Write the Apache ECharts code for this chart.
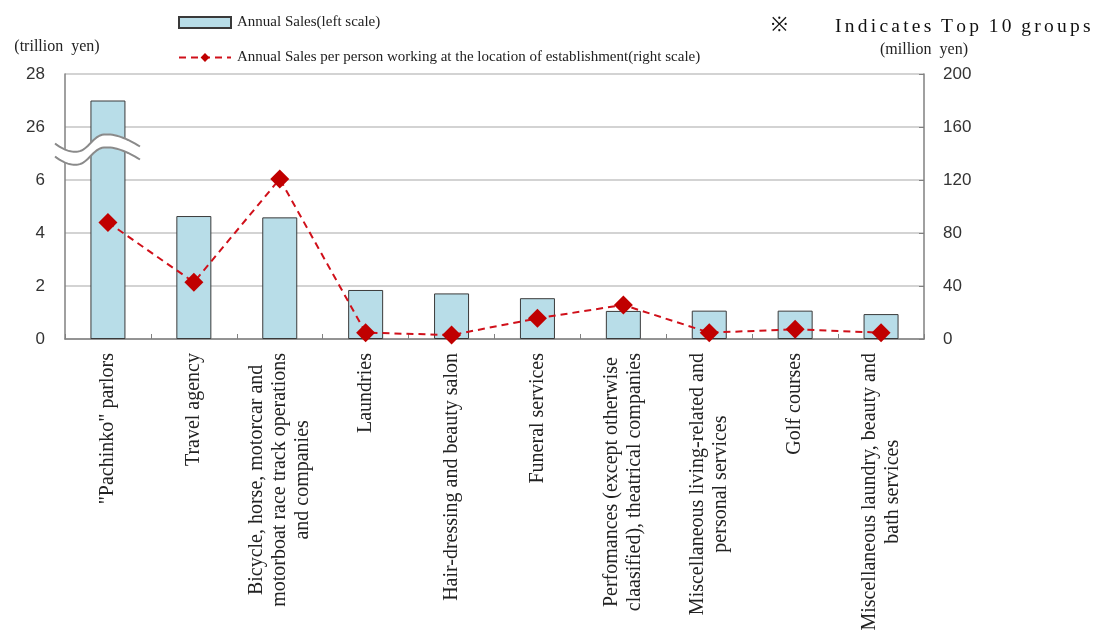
<!DOCTYPE html>
<html>
<head>
<meta charset="utf-8">
<script src="https://cdn.jsdelivr.net/npm/echarts@6/dist/echarts.min.js"></script>
<style>html,body{margin:0;padding:0;background:#fff;}#c{width:1098px;height:636px;}</style>
</head>
<body>
<div id="c"></div>
<script>
// ---- data ----
const categories = [
  '"Pachinko" parlors',
  'Travel agency',
  'Bicycle, horse, motorcar and\nmotorboat race track operations\nand companies',
  'Laundries',
  'Hair-dressing and beauty salon',
  'Funeral services',
  'Perfomances (except otherwise\nclaasified), theatrical companies',
  'Miscellaneous living-related and\npersonal services',
  'Golf courses',
  'Miscellaneous laundry, beauty and\nbath services'
];
// Annual sales, trillion yen (left scale)
const annualSales = [27.0, 4.64, 4.59, 1.85, 1.72, 1.54, 1.06, 1.07, 1.07, 0.94];
// Annual sales per person, million yen (right scale)
const salesPerPerson = [88, 42.8, 120.8, 4.8, 3, 15.6, 25.7, 4.8, 7.3, 4.8];
// left axis tick labels (broken axis: 0,2,4,6 then 26,28)
const leftTickLabels = ['0', '2', '4', '6', '26', '28'];
const breakLow = 6;      // last value shown below the break
const breakOffset = 18;  // values above the break are shifted down by this amount

function toDisplay(v) { return v > breakLow + 1 ? v - breakOffset : v; }

const serif = "'Liberation Serif', 'Times New Roman', serif";
const sans = "'Liberation Sans', Arial, sans-serif";
const catFontSize = 20;

// rich styles that centre the lines of each multi-line category label
const measureCtx = document.createElement('canvas').getContext('2d');
measureCtx.font = catFontSize + "px 'Liberation Serif'";
const richStyles = {};
categories.forEach(function (c, i) {
  const lines = c.split('\n');
  const widths = lines.map(function (l) { return measureCtx.measureText(l).width; });
  const maxW = Math.max.apply(null, widths);
  lines.forEach(function (l, j) {
    richStyles['r' + i + '_' + j] = {
      fontFamily: serif, fontSize: catFontSize, color: '#222', lineHeight: 23,
      padding: [0, (maxW - widths[j]) / 2, 0, 0]
    };
  });
});

const chart = echarts.init(document.getElementById('c'));
chart.setOption({
  animation: false,
  backgroundColor: '#fff',
  title: [{
    text: '\u203B',
    left: 766, top: 11,
    textStyle: { fontFamily: serif, fontSize: 20, fontWeight: 'normal', color: '#111' }
  }, {
    text: 'I\u2006n\u2006d\u2006i\u2006c\u2006a\u2006t\u2006e\u2006s\u2005 T\u2006o\u2006p\u2005 1\u20060\u2005 g\u2006r\u2006o\u2006u\u2006p\u2006s',
    left: 830, top: 12,
    textStyle: { fontFamily: serif, fontSize: 19.5, fontWeight: 'normal', color: '#111' }
  }],
  legend: {
    orient: 'vertical',
    left: 173, top: 10,
    itemWidth: 52, itemHeight: 11, itemGap: 20,
    textStyle: { fontFamily: serif, fontSize: 15, color: '#222', padding: [0, 0, 0, 1] },
    data: [
      { name: 'Annual Sales(left scale)', icon: 'rect' },
      { name: 'Annual Sales per person working at the location of establishment(right scale)' }
    ]
  },
  grid: { left: 65, right: 174, top: 74, bottom: 297 },
  xAxis: {
    type: 'category',
    data: categories,
    boundaryGap: true,
    axisLine: { lineStyle: { color: '#808080', width: 1.5 } },
    axisTick: { show: true, inside: true, length: 5, lineStyle: { color: '#808080' } },
    axisLabel: {
      interval: 0,
      rotate: 90,
      margin: 14,
      fontFamily: serif,
      fontSize: catFontSize,
      color: '#222',
      lineHeight: 23,
      formatter: function (v, i) {
        return v.split('\n').map(function (l, j) { return '{r' + i + '_' + j + '|' + l + '}'; }).join('\n');
      },
      rich: richStyles
    }
  },
  yAxis: [{
    type: 'value',
    min: 0, max: 10, interval: 2,
    name: '(trillion  yen)',
    nameLocation: 'end',
    nameGap: 19,
    nameTextStyle: { fontFamily: serif, fontSize: 16, color: '#222', align: 'center', padding: [0, 16, 0, 0] },
    axisLine: { show: true, lineStyle: { color: '#808080', width: 1.5 } },
    axisTick: { show: false },
    splitLine: { lineStyle: { color: '#c4c4c4', width: 1.5 } },
    axisLabel: {
      margin: 20, fontFamily: sans, fontSize: 17, color: '#333',
      formatter: function (v) { return leftTickLabels[Math.round(v / 2)]; }
    }
  }, {
    type: 'value',
    min: 0, max: 200, interval: 40,
    name: '(million  yen)',
    nameLocation: 'end',
    nameGap: 16,
    nameTextStyle: { fontFamily: serif, fontSize: 16, color: '#222', align: 'center' },
    axisLine: { show: true, lineStyle: { color: '#808080', width: 1.5 } },
    axisTick: { show: true, inside: true, length: 5, lineStyle: { color: '#808080' } },
    splitLine: { show: false },
    axisLabel: { margin: 19, fontFamily: sans, fontSize: 17, color: '#333' }
  }],
  series: [{
    name: 'Annual Sales(left scale)',
    type: 'bar',
    yAxisIndex: 0,
    barWidth: 35,
    data: annualSales.map(toDisplay),
    itemStyle: { color: '#b8dde8', borderColor: '#3a3a3a', borderWidth: 1 },
    z: 2
  }, {
    name: 'Annual Sales per person working at the location of establishment(right scale)',
    type: 'line',
    yAxisIndex: 1,
    data: salesPerPerson,
    symbol: 'diamond',
    symbolSize: 19,
    itemStyle: { color: '#c00000' },
    lineStyle: { color: '#d0101a', width: 2, type: [7, 5] },
    z: 5
  }]
});

// ---- axis-break symbol (decoration) placed from the axis scale ----
function cubic(p0, p1, p2, p3, t) {
  const u = 1 - t;
  return [
    u * u * u * p0[0] + 3 * u * u * t * p1[0] + 3 * u * t * t * p2[0] + t * t * t * p3[0],
    u * u * u * p0[1] + 3 * u * u * t * p1[1] + 3 * u * t * t * p2[1] + t * t * t * p3[1]
  ];
}
function drawBreak() {
  const pMid = chart.convertToPixel({ yAxisIndex: 0 }, breakLow + 1);
  const axisX = chart.convertToPixel({ xAxisIndex: 0 }, 0) - chart.getModel().getComponent('xAxis', 0).axis.getBandWidth() / 2;
  const x0 = axisX - 10, y0 = pMid - 10;
  // wave shape relative to its start point
  const segs = [
    [[0, 0], [8, 6], [15, 9], [23, 8]],
    [[23, 8], [33, 7], [38, -8], [49, -9]],
    [[49, -9], [60, -10], [72, -5], [85, 3]]
  ];
  function wave(dy) {
    const pts = [];
    segs.forEach(function (s, k) {
      for (let i = (k === 0 ? 0 : 1); i <= 16; i++) {
        const p = cubic(s[0], s[1], s[2], s[3], i / 16);
        pts.push([x0 + p[0], y0 + dy + p[1]]);
      }
    });
    return pts;
  }
  const gap = 13;
  const up = wave(0), lo = wave(gap);
  chart.setOption({
    graphic: [
      { type: 'polygon', z: 100, shape: { points: up.concat(lo.slice().reverse()) }, style: { fill: '#fff', stroke: '#fff', lineWidth: 1 } },
      { type: 'polyline', z: 101, shape: { points: up }, style: { fill: null, stroke: '#8a8a8a', lineWidth: 2 } },
      { type: 'polyline', z: 101, shape: { points: lo }, style: { fill: null, stroke: '#8a8a8a', lineWidth: 2 } }
    ]
  });
}
drawBreak();
</script>
</body>
</html>
